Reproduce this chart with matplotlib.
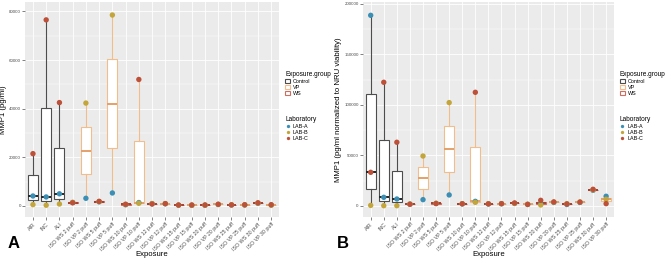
import numpy as np
import matplotlib
matplotlib.use('Agg')
import matplotlib.pyplot as plt
from matplotlib.patches import Patch
from matplotlib.lines import Line2D

plt.rcParams['font.family'] = ['Liberation Sans', 'DejaVu Sans']

exposures = ['AIR', 'INC', 'ALI',
             'ISO WS 2 puff', 'ISO VP 2 puff', 'ISO WS 5 puff', 'ISO VP 5 puff',
             'ISO WS 10 puff', 'ISO VP 10 puff', 'ISO WS 12 puff', 'ISO VP 12 puff',
             'ISO WS 15 puff', 'ISO VP 15 puff', 'ISO WS 20 puff', 'ISO VP 20 puff',
             'ISO WS 25 puff', 'ISO VP 25 puff', 'ISO WS 30 puff', 'ISO VP 30 puff']
groups = ['Control'] * 3 + ['WS', 'VP'] * 8
labs = ['LAB-A', 'LAB-B', 'LAB-C']
nan = np.nan

# panel A: MMP1 (pg/ml), one value per lab
a_lab_a = [4100, 3700, 5000, 1400, 3150, 1700, 5340, 500, 1400, 900, 900,
           300, 250, 300, 600, 400, 400, 1100, 400]
a_lab_b = [550, 300, 800, 1500, 42300, 1800, 78500, 650, 1100, 1000, 1000,
           350, 300, 350, 650, 500, 450, 1200, 350]
a_lab_c = [21500, 76500, 42500, 1300, nan, 1900, nan, 700, 52000, 800, 950,
           400, 400, 400, 700, 450, 500, 1300, 500]

# panel B: MMP1 normalized to NRU viability
b_lab_a = [188500, 8570, 6900, 1800, 6260, 2500, 10900, 2000, 4600, 2000, 2200,
           2500, 1500, 2500, 3500, 1500, 3500, 15500, 9600]
b_lab_b = [600, 300, 300, 2000, 49400, 2700, 102200, 2300, 3600, 2300, 2400,
           2600, 1700, 1000, 3800, 2300, 4000, 16000, 6600]
b_lab_c = [33300, 122300, 63000, 1700, nan, 2400, nan, 2200, 112400, 2100, 2300,
           3000, 1600, 5600, 4000, 2000, 3800, 16500, 2300]

group_colors = {'Control': '#4d4d4d', 'VP': '#f0bd8c', 'WS': '#cf6e5e'}
median_colors = {'Control': '#262626', 'VP': '#e3a06a', 'WS': '#a8402e'}
lab_colors = {'LAB-A': '#3b8fb5', 'LAB-B': '#c3a53a', 'LAB-C': '#bd5038'}


def draw_panel(ax, vals, ylim, yticks, ylabel, letter, lx, ylab_x):
    ax.set_facecolor('#ebebeb')
    x = np.arange(len(exposures))
    data = np.array(vals, dtype=float)
    for i in range(len(exposures)):
        d = data[:, i]
        d = d[~np.isnan(d)]
        g = groups[i]
        ax.boxplot([d], positions=[i], widths=0.75, whis=(0, 100),
                   showfliers=False, patch_artist=True, manage_ticks=False,
                   boxprops=dict(facecolor='white', edgecolor=group_colors[g], linewidth=0.8),
                   whiskerprops=dict(color=group_colors[g], linewidth=0.8),
                   capprops=dict(linewidth=0),
                   medianprops=dict(color=median_colors[g], linewidth=1.4),
                   zorder=2)
    for k, lab in enumerate(labs):
        ax.scatter(x, data[k], s=15, color=lab_colors[lab], edgecolor='none', zorder=3)
    ax.set_xlim(-0.6, len(exposures) - 0.4)
    ax.set_ylim(*ylim)
    ax.set_yticks(yticks)
    ax.set_yticks([(a + b) / 2 for a, b in zip(yticks[:-1], yticks[1:])], minor=True)
    ax.set_xticks(x)
    ax.set_xticklabels(exposures, rotation=45, ha='right', rotation_mode='anchor')
    ax.grid(which='major', color='white', linewidth=0.6)
    ax.grid(which='minor', axis='y', color='white', linewidth=0.3)
    ax.set_axisbelow(True)
    for s in ax.spines.values():
        s.set_visible(False)
    ax.tick_params(axis='x', which='major', labelsize=3.8, colors='#4d4d4d',
                   length=2, width=0.5, pad=1.5)
    ax.tick_params(axis='y', which='major', labelsize=3.2, colors='#4d4d4d',
                   length=2, width=0.5, pad=1)
    ax.tick_params(axis='both', which='minor', length=0)
    ax.set_ylabel(ylabel, fontsize=5.6)
    ax.yaxis.set_label_coords(ylab_x, 0.5)
    ax.set_xlabel('Exposure', fontsize=5.6)
    ax.xaxis.set_label_coords(0.5, -0.16)

    h1 = [Patch(facecolor='white', edgecolor=group_colors[g], linewidth=0.8, label=g)
          for g in ['Control', 'VP', 'WS']]
    leg1 = ax.legend(handles=h1, title='Exposure.group', loc='upper left',
                     bbox_to_anchor=(1.015, 0.69), frameon=False, fontsize=3.9,
                     title_fontsize=4.7, handlelength=0.9, handleheight=0.7,
                     handletextpad=0.5, labelspacing=0.2, borderaxespad=0)
    leg1._legend_box.align = 'left'
    ax.add_artist(leg1)
    h2 = [Line2D([], [], marker='o', linestyle='none', markersize=2.4,
                 markerfacecolor=lab_colors[l], markeredgecolor='none', label=l)
          for l in labs]
    leg2 = ax.legend(handles=h2, title='Laboratory', loc='upper left',
                     bbox_to_anchor=(1.015, 0.48), frameon=False, fontsize=3.9,
                     title_fontsize=4.7, handlelength=0.9, handletextpad=0.5,
                     labelspacing=0.2, borderaxespad=0)
    leg2._legend_box.align = 'left'
    fig.text(lx, 0.04, letter, fontsize=12, fontweight='bold')


fig = plt.figure(figsize=(6.67, 2.58), dpi=100)
ax1 = fig.add_axes([0.0375, 0.159, 0.381, 0.833])
ax2 = fig.add_axes([0.544, 0.159, 0.3765, 0.833])

draw_panel(ax1, [a_lab_a, a_lab_b, a_lab_c], (-4530, 83820),
           [0, 20000, 40000, 60000, 80000], 'MMP1 (pg/ml)', 'A', 0.012, -0.07)
draw_panel(ax2, [b_lab_a, b_lab_b, b_lab_c], (-10870, 201600),
           [0, 50000, 100000, 150000, 200000],
           'MMP1 (pg/ml normalized to NRU viability)', 'B', 0.505, -0.085)

fig.savefig('out.png', dpi=100)
